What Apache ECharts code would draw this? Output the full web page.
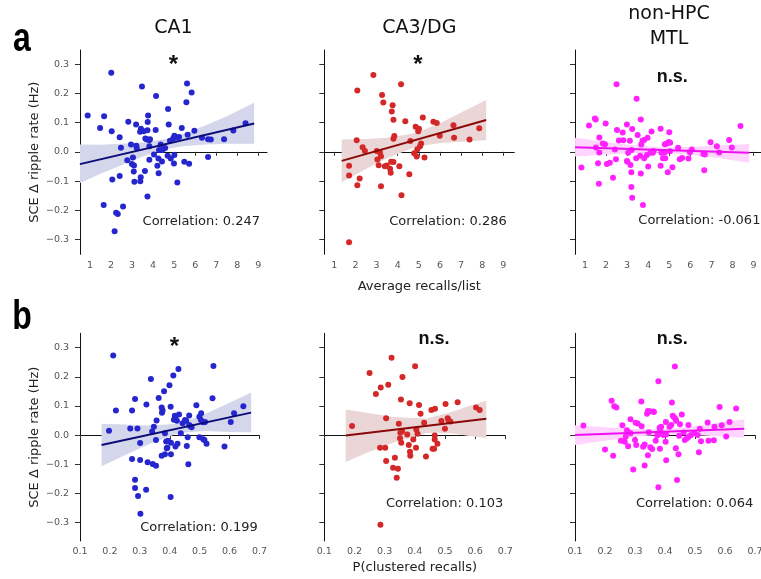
<!DOCTYPE html>
<html>
<head>
<meta charset="utf-8">
<script src="https://cdn.jsdelivr.net/npm/echarts@6/dist/echarts.min.js"></script>
<style>
  html, body { margin: 0; padding: 0; background: #fff; }
  #chart { width: 761px; height: 579px; }
</style>
</head>
<body>
<div id="chart"></div>
<script>
// tick labels
const recallTicks = [1, 2, 3, 4, 5, 6, 7, 8, 9]
const clusterTicks = [0.1, 0.2, 0.3, 0.4, 0.5, 0.6, 0.7]
const rippleTicks = [-0.3, -0.2, -0.1, 0.0, 0.1, 0.2, 0.3]

const regions = ['CA1', 'CA3/DG', 'non-HPC\nMTL']

// row a: average recalls/list vs SCE ripple rate
const ca1Recall = [[2.01,0.271],[0.89,0.125],[1.67,0.122],[1.48,0.082],[2.03,0.071],[2.41,0.050],[2.47,0.014],[2.82,0.103],[2.95,0.025],[3.19,0.094],[3.20,0.021],[3.22,0.013],[3.38,0.069],[3.42,0.079],[3.55,0.071],[3.63,0.046],[3.69,0.043],[3.76,0.125],[3.74,0.102],[3.73,0.074],[3.81,0.040],[3.85,0.043],[3.82,0.019],[4.12,0.075],[3.47,0.224],[4.14,0.191],[4.71,0.147],[4.74,0.094],[5.36,0.082],[5.96,0.072],[5.61,0.234],[5.83,0.203],[5.58,0.170],[4.80,0.038],[4.96,0.047],[5.01,0.055],[5.23,0.051],[5.10,0.049],[5.64,0.059],[6.32,0.048],[6.61,0.043],[6.74,0.042],[7.37,0.043],[7.81,0.073],[8.39,0.098],[6.61,-0.018],[5.48,-0.034],[5.71,-0.041],[4.99,-0.040],[5.01,-0.011],[4.84,-0.023],[4.69,-0.013],[4.57,0.013],[4.44,0.006],[4.28,0.006],[4.36,0.025],[4.04,-0.009],[3.82,-0.027],[4.25,-0.023],[4.42,-0.033],[4.20,-0.048],[4.26,-0.073],[3.61,-0.066],[3.04,-0.019],[2.77,-0.029],[2.99,-0.042],[3.09,-0.047],[3.08,-0.067],[3.11,-0.102],[3.41,-0.087],[3.39,-0.101],[2.41,-0.083],[2.06,-0.095],[5.15,-0.105],[3.73,-0.153],[1.65,-0.182],[2.57,-0.187],[2.24,-0.209],[2.32,-0.213],[2.17,-0.272]]
const ca3Recall = [[2.85,0.263],[4.16,0.232],[2.09,0.210],[3.26,0.195],[3.32,0.169],[3.76,0.160],[3.72,0.138],[3.80,0.110],[4.36,0.105],[5.19,0.118],[5.69,0.103],[5.85,0.099],[6.64,0.091],[7.86,0.081],[4.85,0.086],[5.01,0.079],[4.97,0.071],[5.99,0.055],[6.67,0.048],[7.40,0.042],[3.80,0.045],[3.84,0.054],[2.06,0.040],[2.34,0.016],[2.45,0.003],[3.01,0.003],[3.16,-0.002],[3.21,-0.015],[3.04,-0.026],[3.10,-0.046],[3.39,-0.049],[3.48,-0.047],[3.69,-0.034],[3.80,-0.035],[3.64,-0.058],[3.67,-0.072],[4.08,-0.049],[4.55,-0.077],[4.60,0.037],[5.11,0.029],[5.06,0.019],[4.93,0.009],[4.78,-0.005],[4.90,-0.016],[5.27,-0.019],[4.18,-0.149],[3.21,-0.118],[2.09,-0.114],[2.20,-0.091],[1.70,-0.048],[1.70,-0.081],[1.70,-0.310]]
const mtlRecall = [[2.50,0.232],[3.45,0.182],[1.47,0.114],[1.51,0.111],[1.19,0.090],[1.98,0.097],[3.65,0.111],[2.99,0.094],[2.52,0.075],[2.79,0.066],[3.24,0.078],[3.50,0.058],[4.16,0.070],[4.59,0.079],[5.00,0.067],[2.61,0.039],[2.82,0.040],[3.13,0.038],[3.67,0.025],[3.73,0.038],[3.81,0.041],[3.97,0.048],[4.89,0.029],[5.04,0.031],[4.79,0.026],[5.42,0.014],[6.07,0.008],[6.96,0.033],[7.26,0.019],[7.84,0.041],[8.38,0.089],[7.97,0.015],[7.37,-0.002],[6.62,-0.007],[6.69,-0.009],[1.68,0.049],[1.85,0.029],[1.95,0.026],[1.52,0.015],[1.68,-0.002],[2.42,0.008],[3.05,-0.003],[3.21,0.006],[3.62,-0.013],[3.43,-0.022],[3.81,-0.022],[3.94,-0.011],[4.10,-0.003],[4.25,0.003],[4.63,-0.003],[4.79,-0.001],[5.03,0.002],[4.70,-0.022],[4.81,-0.022],[4.59,-0.048],[5.61,-0.021],[5.50,-0.025],[5.91,-0.023],[5.98,-0.001],[2.99,-0.031],[3.02,-0.034],[3.16,-0.045],[3.20,-0.070],[3.65,-0.074],[4.00,-0.050],[3.20,-0.120],[3.24,-0.157],[3.75,-0.182],[4.93,-0.070],[5.15,-0.053],[6.66,-0.063],[2.33,-0.089],[1.66,-0.109],[2.04,-0.042],[2.18,-0.037],[1.62,-0.039],[0.83,-0.054],[2.47,-0.025],[4.98,0.034],[4.22,-0.003]]

// row b: P(clustered recalls) vs SCE ripple rate
const ca1Cluster = [[0.211,0.273],[0.220,0.084],[0.197,0.015],[0.268,0.023],[0.274,0.084],[0.284,0.124],[0.292,0.023],[0.301,-0.027],[0.274,-0.082],[0.301,-0.085],[0.322,0.105],[0.326,-0.093],[0.337,0.192],[0.343,-0.099],[0.354,-0.105],[0.341,0.012],[0.347,0.029],[0.356,0.050],[0.363,0.127],[0.354,-0.017],[0.373,0.095],[0.374,0.077],[0.376,0.084],[0.381,0.150],[0.384,0.006],[0.388,-0.022],[0.392,-0.043],[0.394,-0.019],[0.390,-0.045],[0.373,-0.071],[0.384,-0.066],[0.399,0.171],[0.403,0.097],[0.404,-0.026],[0.404,-0.066],[0.412,0.204],[0.417,0.066],[0.419,0.055],[0.424,0.049],[0.429,0.227],[0.414,0.053],[0.431,0.071],[0.419,-0.039],[0.426,-0.030],[0.437,0.006],[0.443,0.041],[0.451,0.052],[0.455,0.049],[0.457,-0.037],[0.462,-0.100],[0.460,-0.007],[0.465,0.067],[0.465,0.035],[0.468,0.031],[0.473,0.027],[0.489,0.102],[0.499,0.063],[0.504,0.052],[0.505,0.075],[0.512,0.044],[0.518,0.045],[0.512,-0.014],[0.516,-0.017],[0.499,-0.007],[0.523,-0.030],[0.543,0.126],[0.546,0.237],[0.583,-0.039],[0.604,0.045],[0.615,0.075],[0.646,0.099],[0.284,-0.153],[0.284,-0.181],[0.294,-0.209],[0.321,-0.187],[0.403,-0.212],[0.302,-0.270]]
const ca3Cluster = [[0.323,0.265],[0.401,0.236],[0.250,0.213],[0.359,0.199],[0.287,0.163],[0.312,0.173],[0.271,0.141],[0.354,0.122],[0.383,0.109],[0.414,0.103],[0.419,0.073],[0.455,0.086],[0.467,0.090],[0.502,0.107],[0.542,0.113],[0.603,0.095],[0.615,0.086],[0.305,0.058],[0.347,0.039],[0.358,0.013],[0.352,0.008],[0.351,-0.011],[0.355,-0.026],[0.375,0.002],[0.380,-0.034],[0.395,-0.015],[0.405,0.019],[0.409,0.005],[0.404,-0.043],[0.431,0.042],[0.488,0.048],[0.500,0.022],[0.509,0.058],[0.512,0.050],[0.518,0.047],[0.466,-0.001],[0.466,-0.015],[0.475,-0.030],[0.459,-0.047],[0.464,-0.047],[0.437,-0.073],[0.384,-0.057],[0.385,-0.071],[0.285,-0.043],[0.302,-0.043],[0.305,-0.089],[0.334,-0.078],[0.328,-0.112],[0.344,-0.115],[0.340,-0.146],[0.192,0.031],[0.286,-0.307]]
const mtlCluster = [[0.433,0.235],[0.378,0.185],[0.222,0.118],[0.231,0.099],[0.238,0.095],[0.321,0.115],[0.423,0.112],[0.343,0.083],[0.350,0.082],[0.361,0.081],[0.363,0.079],[0.340,0.073],[0.456,0.071],[0.426,0.066],[0.430,0.061],[0.435,0.055],[0.437,0.049],[0.582,0.096],[0.637,0.091],[0.258,0.034],[0.285,0.054],[0.302,0.042],[0.309,0.040],[0.322,0.030],[0.387,0.029],[0.384,0.017],[0.382,0.025],[0.403,0.045],[0.415,0.029],[0.421,0.035],[0.450,0.037],[0.478,0.035],[0.542,0.043],[0.565,0.029],[0.589,0.034],[0.615,0.045],[0.516,0.022],[0.128,0.033],[0.273,0.017],[0.277,0.011],[0.285,0.006],[0.300,-0.017],[0.269,-0.006],[0.266,-0.023],[0.277,-0.038],[0.304,-0.034],[0.332,-0.032],[0.327,-0.040],[0.346,0.010],[0.374,-0.001],[0.387,0.005],[0.395,0.000],[0.404,0.002],[0.369,-0.019],[0.402,-0.023],[0.447,-0.002],[0.462,0.009],[0.466,-0.017],[0.473,-0.011],[0.479,-0.006],[0.487,0.000],[0.498,0.007],[0.509,0.000],[0.520,-0.021],[0.545,-0.019],[0.563,-0.018],[0.604,-0.005],[0.351,-0.042],[0.357,-0.048],[0.383,-0.047],[0.436,-0.045],[0.445,-0.066],[0.343,-0.069],[0.513,-0.059],[0.200,-0.049],[0.227,-0.071],[0.332,-0.104],[0.294,-0.118],[0.404,-0.086],[0.378,-0.179],[0.440,-0.154],[0.253,-0.019]]

// fitted lines (end points) and confidence bands
const ca1RecallFitX = [0.52, 8.8], ca1RecallFitY = [-0.042, 0.097]
const ca1RecallBandX = [0.52, 1.5, 2.5, 3.5, 4.6, 5.5, 6.5, 7.5, 8.8]
const ca1RecallBandLo = [-0.107, -0.075, -0.046, -0.016, 0.010, 0.020, 0.025, 0.028, 0.028]
const ca1RecallBandHi = [0.025, 0.024, 0.028, 0.032, 0.044, 0.063, 0.091, 0.122, 0.168]

const ca3RecallFitX = [1.35, 8.19], ca3RecallFitY = [-0.031, 0.109]
const ca3RecallBandX = [1.35, 2.5, 3.5, 4.8, 6.0, 7.0, 8.19]
const ca3RecallBandLo = [-0.104, -0.059, -0.022, 0.016, 0.030, 0.035, 0.040]
const ca3RecallBandHi = [0.042, 0.044, 0.048, 0.064, 0.098, 0.135, 0.178]

const mtlRecallFitX = [0.53, 8.79], mtlRecallFitY = [0.016, -0.003]
const mtlRecallBandX = [0.53, 2.0, 3.3, 4.66, 6.0, 7.4, 8.79]
const mtlRecallBandLo = [-0.016, -0.009, -0.004, -0.003, -0.010, -0.022, -0.037]
const mtlRecallBandHi = [0.048, 0.034, 0.023, 0.016, 0.017, 0.022, 0.027]

const ca1ClusterFitX = [0.172, 0.672], ca1ClusterFitY = [-0.034, 0.077]
const ca1ClusterBandX = [0.172, 0.25, 0.33, 0.43, 0.52, 0.6, 0.672]
const ca1ClusterBandLo = [-0.107, -0.069, -0.031, 0.007, 0.014, 0.011, 0.010]
const ca1ClusterBandHi = [0.039, 0.036, 0.033, 0.039, 0.073, 0.111, 0.146]

const ca3ClusterFitX = [0.171, 0.637], ca3ClusterFitY = [-0.001, 0.056]
const ca3ClusterBandX = [0.171, 0.25, 0.33, 0.44, 0.52, 0.58, 0.637]
const ca3ClusterBandLo = [-0.092, -0.057, -0.025, 0.007, 0.006, -0.003, -0.010]
const ca3ClusterBandHi = [0.088, 0.075, 0.062, 0.057, 0.078, 0.100, 0.118]

const mtlClusterFitX = [0.1, 0.664], mtlClusterFitY = [0.0, 0.022]
const mtlClusterBandX = [0.1, 0.2, 0.3, 0.39, 0.48, 0.57, 0.664]
const mtlClusterBandLo = [-0.034, -0.019, -0.006, 0.002, 0.001, -0.004, -0.009]
const mtlClusterBandHi = [0.034, 0.027, 0.021, 0.020, 0.028, 0.041, 0.054]

const correlations = ['0.247', '0.286', '-0.061', '0.199', '0.103', '0.064']
const significance = ['*', '*', 'n.s.', '*', 'n.s.', 'n.s.']

const palette = [
  { dot: '#2626cf', line: '#0c0c78', band: '#d4d6eb' },
  { dot: '#d42828', line: '#8a0808', band: '#ead6d7' },
  { dot: '#ff22ff', line: '#f00ff0', band: '#ffd4ff' }
]

const panels = [
  { pts: ca1Recall, fx: ca1RecallFitX, fy: ca1RecallFitY, bx: ca1RecallBandX, lo: ca1RecallBandLo, hi: ca1RecallBandHi,
    left: 80, top: 50, width: 187, height: 204.3, xmin: 0.525, xmax: 9.41, ymin: -0.351, ymax: 0.349, ticks: recallTicks, c: palette[0] },
  { pts: ca3Recall, fx: ca3RecallFitX, fy: ca3RecallFitY, bx: ca3RecallBandX, lo: ca3RecallBandLo, hi: ca3RecallBandHi,
    left: 324.3, top: 50, width: 190, height: 204.3, xmin: 0.527, xmax: 9.52, ymin: -0.351, ymax: 0.349, ticks: recallTicks, c: palette[1] },
  { pts: mtlRecall, fx: mtlRecallFitX, fy: mtlRecallFitY, bx: mtlRecallBandX, lo: mtlRecallBandLo, hi: mtlRecallBandHi,
    left: 575, top: 50, width: 187.2, height: 204.3, xmin: 0.527, xmax: 9.41, ymin: -0.351, ymax: 0.349, ticks: recallTicks, c: palette[2] },
  { pts: ca1Cluster, fx: ca1ClusterFitX, fy: ca1ClusterFitY, bx: ca1ClusterBandX, lo: ca1ClusterBandLo, hi: ca1ClusterBandHi,
    left: 80, top: 333.3, width: 179.5, height: 207.7, xmin: 0.1, xmax: 0.7, ymin: -0.363, ymax: 0.349, ticks: clusterTicks, c: palette[0] },
  { pts: ca3Cluster, fx: ca3ClusterFitX, fy: ca3ClusterFitY, bx: ca3ClusterBandX, lo: ca3ClusterBandLo, hi: ca3ClusterBandHi,
    left: 324.3, top: 333.3, width: 181, height: 207.7, xmin: 0.1, xmax: 0.7, ymin: -0.363, ymax: 0.349, ticks: clusterTicks, c: palette[1] },
  { pts: mtlCluster, fx: mtlClusterFitX, fy: mtlClusterFitY, bx: mtlClusterBandX, lo: mtlClusterBandLo, hi: mtlClusterBandHi,
    left: 575, top: 333.3, width: 180, height: 207.7, xmin: 0.1, xmax: 0.7, ymin: -0.363, ymax: 0.349, ticks: clusterTicks, c: palette[2] }
]

const tickFont = { fontFamily: 'DejaVu Sans', fontSize: 9.5, color: '#555' }
const nameFont = { fontFamily: 'DejaVu Sans', fontSize: 13, color: '#222' }
const fmtY = v => (v < 0 ? '\u2212' : '') + Math.abs(v).toFixed(1)

const chart = echarts.init(document.getElementById('chart'), null, { renderer: 'canvas' })

const grid = panels.map(p => ({ left: p.left, top: p.top, width: p.width, height: p.height, outerBoundsMode: 'none' }))

const xAxis = panels.map((p, i) => ({
  type: 'value', gridIndex: i, min: p.xmin, max: p.xmax,
  axisLine: { lineStyle: { color: '#111', width: 1 } },
  axisTick: { length: 4, lineStyle: { color: '#333' }, customValues: p.ticks },
  axisLabel: Object.assign({ margin: 6, customValues: p.ticks,
    formatter: v => i < 3 ? String(Math.round(v)) : v.toFixed(1) }, tickFont),
  splitLine: { show: false },
  name: i === 1 ? 'Average recalls/list' : i === 4 ? 'P(clustered recalls)' : '',
  nameLocation: 'middle', nameGap: i === 1 ? 26 : 20, nameTextStyle: nameFont
}))

const yAxis = panels.map((p, i) => ({
  type: 'value', gridIndex: i, min: p.ymin, max: p.ymax,
  axisLine: { show: true, lineStyle: { color: '#111', width: 1 } },
  axisTick: { show: true, length: 5, lineStyle: { color: '#333' }, customValues: rippleTicks },
  axisLabel: Object.assign({ show: i === 0 || i === 3, margin: 11, customValues: rippleTicks, formatter: fmtY }, tickFont),
  splitLine: { show: false },
  name: i === 0 || i === 3 ? 'SCE \u0394 ripple rate (Hz)' : '',
  nameLocation: 'middle', nameRotate: 90, nameGap: 39, nameTextStyle: nameFont
}))

const series = []
panels.forEach((p, i) => {
  const band = p.bx.map((x, j) => [x, p.lo[j], p.hi[j]])
  series.push({
    type: 'custom', xAxisIndex: i, yAxisIndex: i, silent: true, z: 1, clip: true,
    data: band,
    encode: { x: 0, y: [1, 2] },
    renderItem: (params, api) => {
      if (params.dataIndex !== 0) return
      const upper = band.map(r => api.coord([r[0], r[2]]))
      const lower = band.slice().reverse().map(r => api.coord([r[0], r[1]]))
      return { type: 'polygon', shape: { points: upper.concat(lower) }, style: { fill: p.c.band } }
    }
  })
  series.push({
    type: 'scatter', xAxisIndex: i, yAxisIndex: i, z: 2,
    symbolSize: 6, data: p.pts,
    itemStyle: { color: p.c.dot, opacity: 1 }
  })
  series.push({
    type: 'line', xAxisIndex: i, yAxisIndex: i, z: 3,
    showSymbol: false, data: p.fx.map((x, j) => [x, p.fy[j]]),
    lineStyle: { color: p.c.line, width: 2 }
  })
})

// labels and annotations
const corrPos = [
  { x: 260, y: 222, align: 'right' }, { x: 506.7, y: 222, align: 'right' }, { x: 638.3, y: 221, align: 'left' },
  { x: 257.7, y: 527.3, align: 'right' }, { x: 503.3, y: 503.3, align: 'right' }, { x: 753.3, y: 503.3, align: 'right' }
]
const sigPos = [[173.5, 60], [418, 60], [672.3, 76.7], [174.3, 342.7], [434, 339.3], [672.3, 339.3]]

const graphic = []
regions.forEach((r, i) => {
  const cx = [173.5, 419.3, 669][i]
  graphic.push({ type: 'text', x: cx, y: i === 2 ? 27 : 28,
    style: { text: r, fontFamily: 'DejaVu Sans', fontSize: 19, fill: '#111',
      align: 'center', verticalAlign: 'middle', lineHeight: 25 } })
})
graphic.push({ type: 'text', x: 22, y: 40, scaleX: 0.8,
  style: { text: 'a', fontFamily: 'Liberation Sans', fontWeight: 'bold', fontSize: 40, fill: '#000', align: 'center', verticalAlign: 'middle' } })
graphic.push({ type: 'text', x: 22, y: 318, scaleX: 0.8,
  style: { text: 'b', fontFamily: 'Liberation Sans', fontWeight: 'bold', fontSize: 40, fill: '#000', align: 'center', verticalAlign: 'middle' } })
corrPos.forEach((c, i) => {
  graphic.push({ type: 'text', x: c.x, y: c.y,
    style: { text: 'Correlation: ' + correlations[i], fontFamily: 'DejaVu Sans', fontSize: 13, fill: '#222',
      align: c.align, verticalAlign: 'middle' } })
})
sigPos.forEach((s, i) => {
  const star = significance[i] === '*'
  graphic.push({ type: 'text', x: s[0], y: star ? s[1] + 5 : s[1],
    style: { text: significance[i], fontFamily: 'Liberation Sans', fontWeight: 'bold',
      fontSize: star ? 24 : 18, fill: '#111', align: 'center', verticalAlign: 'middle' } })
})

chart.setOption({
  animation: false,
  backgroundColor: '#fff',
  grid: grid,
  xAxis: xAxis,
  yAxis: yAxis,
  series: series,
  graphic: graphic
})
</script>
</body>
</html>
